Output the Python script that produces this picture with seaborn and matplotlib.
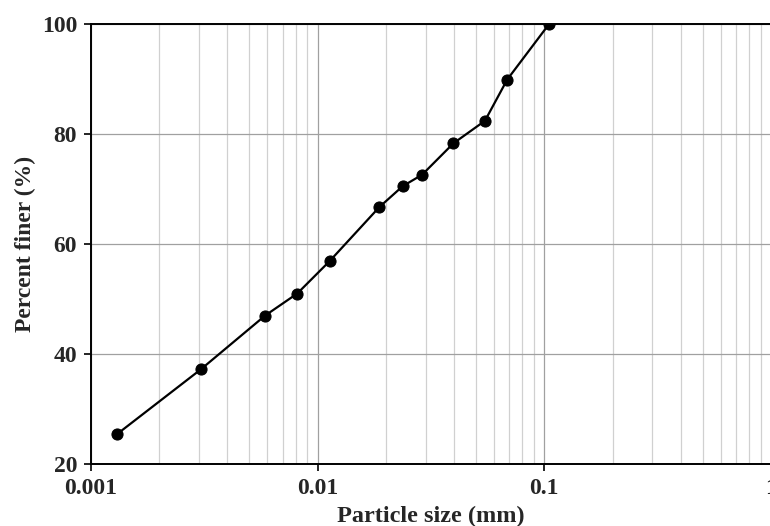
import matplotlib
matplotlib.use("Agg")
import matplotlib.pyplot as plt
import matplotlib.ticker as mticker
import seaborn as sns
import pandas as pd

# Grain size distribution (hydrometer + sieve)
particle_size_mm = [0.0013, 0.00305, 0.00587, 0.00813, 0.0113, 0.0187,
                    0.0237, 0.0289, 0.0397, 0.0547, 0.0686, 0.105]
percent_finer = [25.4, 37.2, 47.0, 51.0, 56.9, 66.7,
                 70.5, 72.6, 78.3, 82.4, 89.9, 100.0]
x_ticks = [0.001, 0.01, 0.1, 1]
x_tick_labels = ["0.001", "0.01", "0.1", "1"]
y_ticks = [20, 40, 60, 80, 100]

sns.set_style("white")
plt.rcParams["font.family"] = ["Liberation Serif", "DejaVu Serif"]
plt.rcParams["font.weight"] = "bold"

df = pd.DataFrame({"size": particle_size_mm, "finer": percent_finer})

fig = plt.figure(figsize=(7.7, 5.26), dpi=100)
ax = fig.add_axes([91 / 770, (526 - 464) / 526, (771 - 91) / 770, 440 / 526])

sns.lineplot(data=df, x="size", y="finer", ax=ax, color="black",
             marker="o", markersize=8, markeredgecolor="black",
             linewidth=1.6, zorder=5, sort=False)

ax.set_xscale("log")
ax.set_xlim(0.001, 1)
ax.set_ylim(20, 100)

ax.xaxis.set_major_locator(mticker.FixedLocator(x_ticks))
ax.xaxis.set_major_formatter(mticker.FixedFormatter(x_tick_labels))
ax.xaxis.set_minor_locator(mticker.LogLocator(base=10, subs=range(2, 10)))
ax.xaxis.set_minor_formatter(mticker.NullFormatter())
ax.set_yticks(y_ticks)

ax.grid(which="major", axis="both", color="#a0a0a0", linewidth=0.9)
ax.grid(which="minor", axis="x", color="#d0d0d0", linewidth=0.9)
ax.set_axisbelow(True)

for side in ["left", "bottom", "top"]:
    ax.spines[side].set_visible(True)
    ax.spines[side].set_color("black")
    ax.spines[side].set_linewidth(1.4)
ax.spines["right"].set_visible(False)

ax.tick_params(axis="both", which="major", direction="out", length=5,
               width=1.2, color="black", labelsize=17, pad=5,
               left=True, bottom=True)
ax.tick_params(axis="x", which="minor", length=0)
for lbl in ax.get_xticklabels() + ax.get_yticklabels():
    lbl.set_fontweight("bold")

ax.set_xlabel("Particle size (mm)", fontsize=17.5, fontweight="bold", labelpad=5)
ax.set_ylabel("Percent finer (%)", fontsize=17, fontweight="bold", labelpad=4)

fig.savefig("out.png", dpi=100)
